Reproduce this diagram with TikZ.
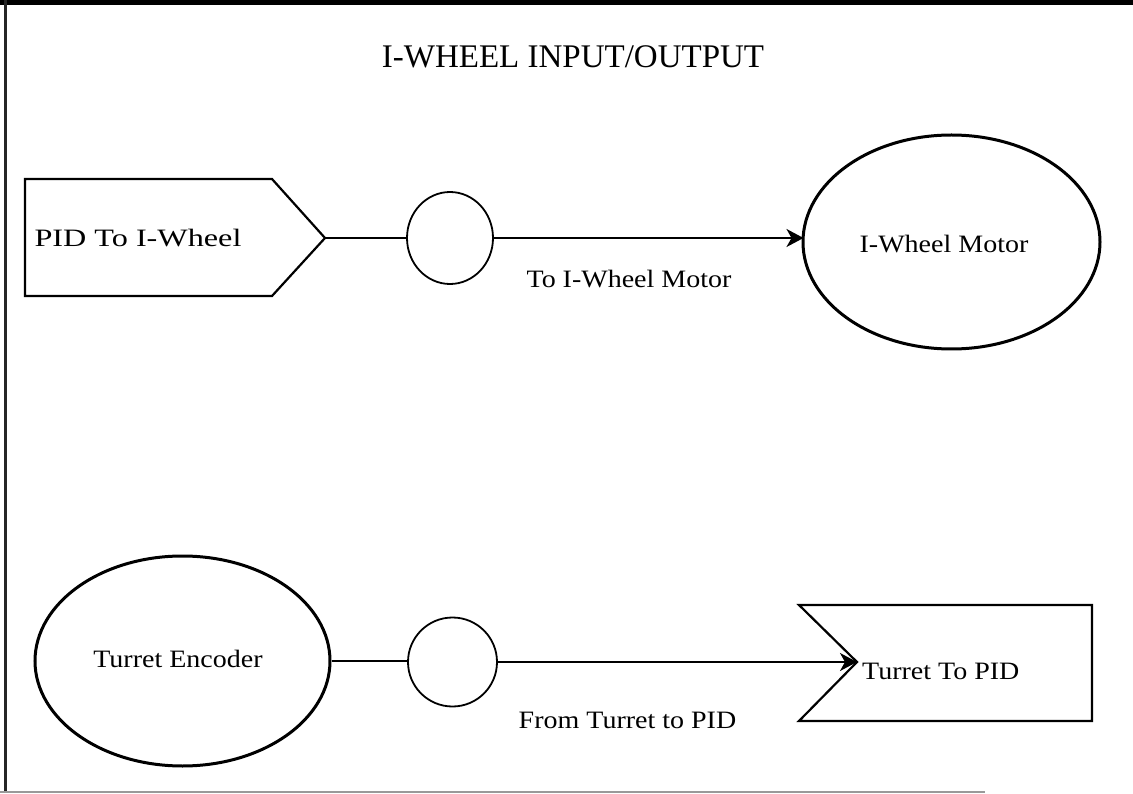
\documentclass[tikz,border=0pt]{standalone}
\usepackage{fontspec}
\usepackage{graphicx}
\setmainfont{Liberation Serif}
\newfontfamily\lblfont[FakeStretch=1.12]{Liberation Serif}
\usetikzlibrary{arrows.meta,shapes.geometric}
\begin{document}
\begin{tikzpicture}[x=1pt,y=-1pt,
  lbl/.style={font=\lblfont\fontsize{25}{30}\selectfont, inner sep=0pt, anchor=base},
  ttl/.style={font=\fontsize{33}{40}\selectfont, inner sep=0pt, anchor=base},
  conn/.style={line width=1.6pt},
  arr/.style={conn, -{Stealth[length=17pt,width=18pt,inset=5pt]}},
  oval/.style={draw, ellipse, line width=3pt, inner sep=0pt},
  junction/.style={draw, ellipse, line width=1.8pt, inner sep=0pt},
  shapeline/.style={line width=2.2pt, line join=miter}
]
\useasboundingbox (0,0) rectangle (1133,794);
% frame
\fill[black] (0,0) rectangle (1133,5);
\draw[line width=3pt, black!85] (5,0) -- (5,792);
\draw[line width=1.5pt, black!40] (0,792) -- (985,792);

% title
\node[ttl] (title) at (573,68) {I-WHEEL INPUT/OUTPUT};

% top row
\draw[shapeline] (25,179) -- (272,179) -- (325,238) -- (272,296) -- (25,296) -- cycle;
\coordinate (pidtip) at (325,238);
\node[lbl] (pidtxt) at (138,247) {\scalebox{1.15}[1]{PID To I-Wheel}};
\node[junction, minimum width=86pt, minimum height=92pt] (j1) at (450,238) {};
\node[oval, minimum width=297pt, minimum height=214pt] (motor) at (951.5,242) {};
\coordinate (motorin) at (803.5,238);
\node[lbl] (motortxt) at (944,253) {I-Wheel Motor};
\draw[conn] (pidtip) -- (j1.west);
\draw[arr] (j1.east) -- (motorin);
\node[lbl] (l1) at (629,288) {To I-Wheel Motor};

% bottom row
\node[oval, minimum width=295pt, minimum height=210pt] (enc) at (182.5,661) {};
\node[lbl] (enctxt) at (178,667) {Turret Encoder};
\node[junction, minimum size=89pt] (j2) at (452.5,662) {};
\draw[shapeline] (799,605) -- (1092,605) -- (1092,721) -- (799,721) -- (857,662) -- cycle;
\coordinate (notch) at (857,662);
\node[lbl, anchor=base west] (pidin) at (862,679) {Turret To PID};
\draw[conn] (enc.east) -- (enc.east -| j2.west);
\draw[arr] (j2.east) -- (notch);
\node[lbl] (l2) at (627.5,728) {From Turret to PID};
\end{tikzpicture}
\end{document}
